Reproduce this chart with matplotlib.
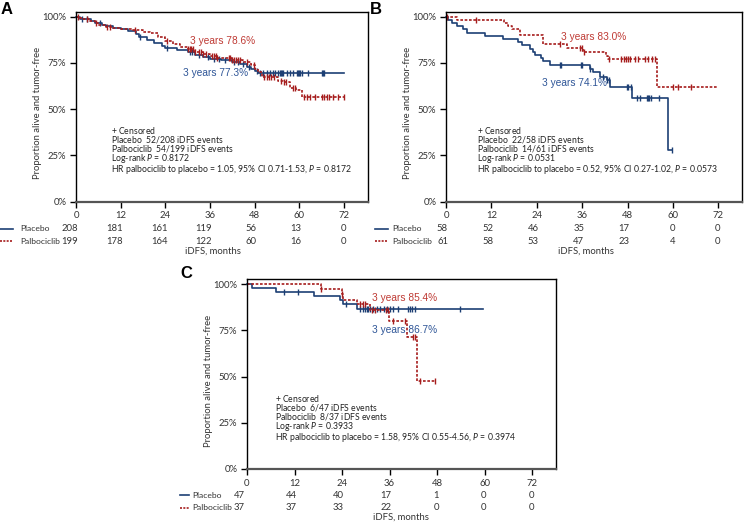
import numpy as np
import matplotlib
matplotlib.use('Agg')
import matplotlib.pyplot as plt
from matplotlib.lines import Line2D
from matplotlib.transforms import blended_transform_factory, offset_copy

plt.rcParams['font.family'] = ['Lato', 'DejaVu Sans']
plt.rcParams['mathtext.fontset'] = 'custom'
plt.rcParams['mathtext.it'] = 'Lato:italic'
plt.rcParams['mathtext.rm'] = 'Lato'

W, H = 744, 525
BLUE = '#1d3f74'
BLUE_TXT = '#2e5597'
RED = '#a61d1d'
RED_TXT = '#bf3a34'

months = [0, 12, 24, 36, 48, 60, 72]
pct_ticks = [0, 0.25, 0.5, 0.75, 1.0]
pct_labels = ['0%', '25%', '50%', '75%', '100%']

# ---- panel A ----
a_pla_t = [0, 1, 2, 4, 5, 7, 8, 10, 12, 14, 16, 17, 19, 21, 23, 24, 27, 30, 32, 34,
           36, 39, 42, 44, 46, 47, 48, 49]
a_pla_s = [1.0, 0.99, 0.985, 0.975, 0.965, 0.955, 0.948, 0.94, 0.932, 0.92, 0.905, 0.89,
           0.875, 0.86, 0.84, 0.832, 0.822, 0.81, 0.795, 0.78, 0.773, 0.765, 0.755, 0.745,
           0.73, 0.718, 0.706, 0.697]
a_pla_end = 72
a_pla_cens = [1.5, 3, 6.5, 17.2, 24.5, 30.5, 31.2, 33, 35.5, 37, 38.5, 40, 42.5, 43.5, 45,
              46.5, 48.5, 49.4, 50.3, 51.2, 52.1, 52.8, 53.5, 54.4, 54.7, 55, 55.3, 55.7,
              56.6, 57.5, 58.2, 59.3, 59.6, 60, 60.3, 60.6, 62.2, 66, 66.3, 66.6]
a_pal_t = [0, 1, 2, 3.5, 5, 6, 8, 10, 12, 15, 18, 20, 22, 24, 26, 28, 30, 32, 34, 36, 38,
           42, 45, 47, 48, 49, 50, 54.2, 55.5, 57.5, 59, 60.6]
a_pal_s = [1.0, 0.992, 0.985, 0.975, 0.965, 0.955, 0.945, 0.94, 0.932, 0.928, 0.918, 0.91,
           0.89, 0.87, 0.855, 0.838, 0.824, 0.81, 0.798, 0.786, 0.778, 0.766, 0.757, 0.739,
           0.72, 0.70, 0.676, 0.655, 0.645, 0.613, 0.604, 0.566]
a_pal_end = 72
a_pal_cens = [0.5, 3, 5.5, 8.2, 9, 15.9, 24.4, 30, 30.5, 31, 31.5, 32, 33, 33.5, 34.2, 35,
              36.5, 37, 37.5, 38, 41, 41.5, 42, 42.5, 43, 43.5, 44, 46, 47.8, 50.5, 51.2,
              51.8, 52.5, 53.2, 55, 55.8, 56.5, 58.3, 58.8, 61.3, 62, 62.9, 64.2, 66,
              66.6, 67.4, 68, 69.1, 70.5, 72]
a_risk_pla = [208, 181, 161, 119, 56, 13, 0]
a_risk_pal = [199, 178, 164, 122, 60, 16, 0]
a_yr_pal = '3 years 78.6%'
a_yr_pla = '3 years 77.3%'
a_notes = ['+ Censored', 'Placebo  52/208 iDFS events', 'Palbociclib  54/199 iDFS events',
           'Log-rank $P$ = 0.8172',
           'HR palbociclib to placebo = 1.05, 95% CI 0.71-1.53, $P$ = 0.8172']

# ---- panel B ----
b_pla_t = [0, 0.6, 1.5, 2.8, 4.5, 5.5, 10.3, 15.1, 19.1, 20, 22.2, 23, 23.5, 25, 25.7,
           27.5, 38.1, 39, 40.7, 42.5, 43.4, 49.1, 58.8]
b_pla_s = [1.0, 0.983, 0.966, 0.948, 0.931, 0.914, 0.897, 0.879, 0.862, 0.845, 0.828,
           0.81, 0.793, 0.776, 0.759, 0.741, 0.72, 0.70, 0.676, 0.658, 0.618, 0.562, 0.281]
b_pla_end = 59.7
b_pla_cens = [30.1, 30.4, 35.6, 35.9, 38.1, 41.6, 42.7, 43.1, 47.9, 48.2, 48.8, 50.4, 51.3,
              53.2, 53.5, 53.8, 54.1, 56.3, 59.7]
b_pal_t = [0, 3.0, 15.3, 16.5, 17.5, 19.5, 25.7, 31.9, 36.3, 42.3, 42.8, 55.7]
b_pal_s = [1.0, 0.984, 0.967, 0.951, 0.934, 0.901, 0.851, 0.83, 0.81, 0.79, 0.773, 0.618]
b_pal_end = 72
b_pal_cens = [0.3, 7.9, 30.2, 35.5, 36.0, 36.5, 43.1, 46.4, 47, 47.6, 48.1, 48.6, 49.9,
              50.8, 52.6, 53.5, 54.4, 55.2, 60.1, 61.4, 64.8]
b_risk_pla = [58, 52, 46, 35, 17, 0, 0]
b_risk_pal = [61, 58, 53, 47, 23, 4, 0]
b_yr_pal = '3 years 83.0%'
b_yr_pla = '3 years 74.1%'
b_notes = ['+ Censored', 'Placebo  22/58 iDFS events', 'Palbociclib  14/61 iDFS events',
           'Log-rank $P$ = 0.0531',
           'HR palbociclib to placebo = 0.52, 95% CI 0.27-1.02, $P$ = 0.0573']

# ---- panel C ----
c_pla_t = [0, 1.2, 7.4, 16.9, 23.4, 24.2, 27.8]
c_pla_s = [1.0, 0.979, 0.957, 0.936, 0.913, 0.89, 0.867]
c_pla_end = 59.7
c_pla_cens = [9.3, 13.0, 24.9, 28.5, 29.2, 29.8, 30.2, 30.6, 31.1, 31.9, 32.8, 33.6, 34.6,
              35.4, 36.1, 36.9, 38.2, 40.7, 41.2, 41.7, 42.4, 53.8]
c_pal_t = [0, 18.6, 24.0, 24.3, 27.7, 31.1, 35.9, 40.3, 43.0]
c_pal_s = [1.0, 0.973, 0.946, 0.915, 0.892, 0.858, 0.80, 0.712, 0.477]
c_pal_end = 47.5
c_pal_cens = [18.7, 24.1, 28.5, 29.2, 29.8, 31.5, 32.4, 35.2, 35.6, 36.9, 40.0, 41.9,
              42.4, 43.8, 47.5]
c_risk_pla = [47, 44, 40, 17, 1, 0, 0]
c_risk_pal = [37, 37, 33, 22, 0, 0, 0]
c_yr_pal = '3 years 85.4%'
c_yr_pla = '3 years 86.7%'
c_notes = ['+ Censored', 'Placebo  6/47 iDFS events', 'Palbociclib  8/37 iDFS events',
           'Log-rank $P$ = 0.3933',
           'HR palbociclib to placebo = 1.58, 95% CI 0.55-4.56, $P$ = 0.3974']

fig = plt.figure(figsize=(W / 100, H / 100), dpi=100)


def fx(px):
    return px / W


def fy(py):
    return 1 - py / H


def km(ax, t, s, end, cens, color, ls):
    ax.step(list(t) + [end], list(s) + [s[-1]], where='post', color=color, ls=ls, lw=1.2,
            clip_on=False)
    c = np.array(cens)
    idx = np.searchsorted(t, c, side='right') - 1
    ax.plot(c, np.array(s)[idx], ls='none', marker='|', ms=5, mew=1, color=color,
            clip_on=False)


def panel(letter, letter_xy, x0, x72, right, top, y100, y0,
          pla, pal, risk_pla, risk_pal, yr_pal, yr_pla, yr_pal_xy, yr_pla_xy,
          notes, notes_xy, row_y, leg_x, leg_len, lab_off, xlabel_x, first_off=2):
    ax = fig.add_axes([fx(x0), fy(y0), fx(right) - fx(x0), fy(top) - fy(y0)])
    ax.set_xlim(0, 72 * (right - x0) / (x72 - x0))
    ax.set_ylim(0, (y0 - top) / (y0 - y100))
    km(ax, *pla, BLUE, '-')
    km(ax, *pal, RED, (0, (1.6, 1.0)))
    ax.set_xticks(months)
    ax.set_xticklabels([str(m) for m in months])
    ax.set_yticks(pct_ticks)
    ax.set_yticklabels(pct_labels)
    ax.tick_params(direction='out', length=4, width=1, labelsize=6.8, pad=3,
                   labelcolor='#333333')
    for sp in ax.spines.values():
        sp.set_linewidth(1)
    ax.spines['bottom'].set_color('#555555')
    ax.spines['bottom'].set_linewidth(1.6)

    fig.text(fx(letter_xy[0]), fy(letter_xy[1]), letter, fontsize=12, fontweight='bold',
             family='Liberation Sans', ha='left', va='center')
    fig.text(fx(x0 - 38), fy((y100 + y0) / 2 + 4), 'Proportion alive and tumor-free',
             rotation=90, fontsize=6.8, ha='center', va='center', color='#333333')
    fig.text(fx(yr_pal_xy[0]), fy(yr_pal_xy[1]), yr_pal, color=RED_TXT, fontsize=7.3,
             family='Liberation Sans', ha='left', va='center')
    fig.text(fx(yr_pla_xy[0]), fy(yr_pla_xy[1]), yr_pla, color=BLUE_TXT, fontsize=7.3,
             family='Liberation Sans', ha='left', va='center')
    # every line goes through mathtext so that the line heights match
    lines = [ln if '$' in ln else ln + r'$\,$' for ln in notes]
    fig.text(fx(notes_xy[0]), fy(notes_xy[1] - 5), '\n'.join(lines), fontsize=6.2,
             ha='left', va='top', color='#222222', linespacing=0.78)

    # number at risk table
    trans = blended_transform_factory(ax.transData, fig.transFigure)
    for row, (name, vals, color, ls) in enumerate(
            [('Placebo', risk_pla, BLUE, '-'),
             ('Palbociclib', risk_pal, RED, (0, (1.2, 0.8)))]):
        yy = fy(row_y + row * 12.5)
        fig.add_artist(Line2D([fx(leg_x), fx(leg_x + leg_len)], [yy, yy], color=color,
                              ls=ls, lw=1.2))
        fig.text(fx(leg_x + lab_off), yy, name, fontsize=6.1, ha='left', va='center',
                 color='#333333')
        for j, (m, v) in enumerate(zip(months, vals)):
            off = first_off if j == 0 else 2
            tr = offset_copy(trans, fig=fig, x=off, units='dots')
            ax.text(m, yy, str(v), transform=tr, fontsize=6.8, ha='right', va='center',
                    color='#333333')
    ax.text(xlabel_x, fy(row_y + 22), 'iDFS, months', transform=trans, fontsize=6.8,
            ha='center', va='center', color='#333333')
    return ax


panel('A', (1, 9), 76, 344, 368, 12, 16.7, 201.7,
      (a_pla_t, a_pla_s, a_pla_end, a_pla_cens), (a_pal_t, a_pal_s, a_pal_end, a_pal_cens),
      a_risk_pla, a_risk_pal, a_yr_pal, a_yr_pla, (190, 40.7), (182.7, 72.7),
      a_notes, (110.7, 130), 228.7, 0, 12.7, 20.7, 36.8)

panel('B', (370, 9.5), 446, 718.3, 742, 12, 16.7, 201.7,
      (b_pla_t, b_pla_s, b_pla_end, b_pla_cens), (b_pal_t, b_pal_s, b_pal_end, b_pal_cens),
      b_risk_pla, b_risk_pal, b_yr_pal, b_yr_pla, (561, 36.7), (541.7, 82.7),
      b_notes, (476.7, 130), 228.7, 375, 13, 17.7, 37.0)

panel('C', (180, 274), 247, 532, 556, 279, 284, 469,
      (c_pla_t, c_pla_s, c_pla_end, c_pla_cens), (c_pal_t, c_pal_s, c_pal_end, c_pal_cens),
      c_risk_pla, c_risk_pal, c_yr_pal, c_yr_pla, (371.7, 298.3), (371.7, 330),
      c_notes, (275, 397.7), 495, 180, 9.3, 12.3, 38.8, first_off=-2)

fig.savefig('out.png', dpi=100)
